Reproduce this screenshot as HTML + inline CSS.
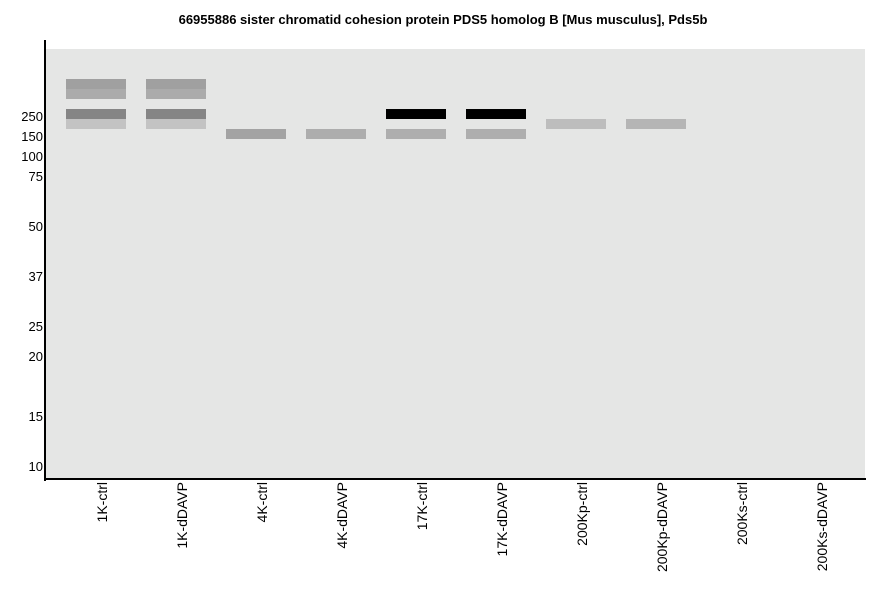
<!DOCTYPE html>
<html><head><style>
html,body{margin:0;padding:0;background:#fff;width:886px;height:595px;overflow:hidden}
svg text{font-family:"Liberation Sans",Arial,sans-serif}
</style></head><body>
<svg width="886" height="595" viewBox="0 0 886 595" xmlns="http://www.w3.org/2000/svg">
<rect x="0" y="0" width="886" height="595" fill="#fff"/>
<text x="443" y="24" text-anchor="middle" font-size="13" font-weight="bold" fill="#000">66955886 sister chromatid cohesion protein PDS5 homolog B [Mus musculus], Pds5b</text>
<rect x="46" y="49" width="819" height="430" fill="#e5e6e5"/>
<rect x="66" y="79" width="60" height="10" fill="#a0a0a0"/>
<rect x="66" y="89" width="60" height="10" fill="#ababab"/>
<rect x="66" y="109" width="60" height="10" fill="#858585"/>
<rect x="66" y="119" width="60" height="10" fill="#c3c3c3"/>
<rect x="146" y="79" width="60" height="10" fill="#a0a0a0"/>
<rect x="146" y="89" width="60" height="10" fill="#ababab"/>
<rect x="146" y="109" width="60" height="10" fill="#858585"/>
<rect x="146" y="119" width="60" height="10" fill="#c3c3c3"/>
<rect x="226" y="129" width="60" height="10" fill="#a3a3a3"/>
<rect x="306" y="129" width="60" height="10" fill="#adadad"/>
<rect x="386" y="109" width="60" height="10" fill="#000"/>
<rect x="386" y="129" width="60" height="10" fill="#aeaeae"/>
<rect x="466" y="109" width="60" height="10" fill="#000"/>
<rect x="466" y="129" width="60" height="10" fill="#aeaeae"/>
<rect x="546" y="119" width="60" height="10" fill="#bdbdbd"/>
<rect x="626" y="119" width="60" height="10" fill="#b5b5b5"/>
<rect x="44" y="40" width="2" height="441" fill="#000"/>
<rect x="44" y="478" width="822" height="2" fill="#000"/>
<g font-size="13" fill="#000" text-anchor="end">
<text x="43" y="121">250</text>
<text x="43" y="141">150</text>
<text x="43" y="161">100</text>
<text x="43" y="181">75</text>
<text x="43" y="231">50</text>
<text x="43" y="281">37</text>
<text x="43" y="331">25</text>
<text x="43" y="361">20</text>
<text x="43" y="421">15</text>
<text x="43" y="471">10</text>
</g>
<g font-size="14" fill="#000" text-anchor="end">
<text transform="translate(107,482) rotate(-90)">1K-ctrl</text>
<text transform="translate(187,482) rotate(-90)">1K-dDAVP</text>
<text transform="translate(267,482) rotate(-90)">4K-ctrl</text>
<text transform="translate(347,482) rotate(-90)">4K-dDAVP</text>
<text transform="translate(427,482) rotate(-90)">17K-ctrl</text>
<text transform="translate(507,482) rotate(-90)">17K-dDAVP</text>
<text transform="translate(587,482) rotate(-90)">200Kp-ctrl</text>
<text transform="translate(667,482) rotate(-90)">200Kp-dDAVP</text>
<text transform="translate(747,482) rotate(-90)">200Ks-ctrl</text>
<text transform="translate(827,482) rotate(-90)">200Ks-dDAVP</text>
</g>
</svg>
</body></html>
